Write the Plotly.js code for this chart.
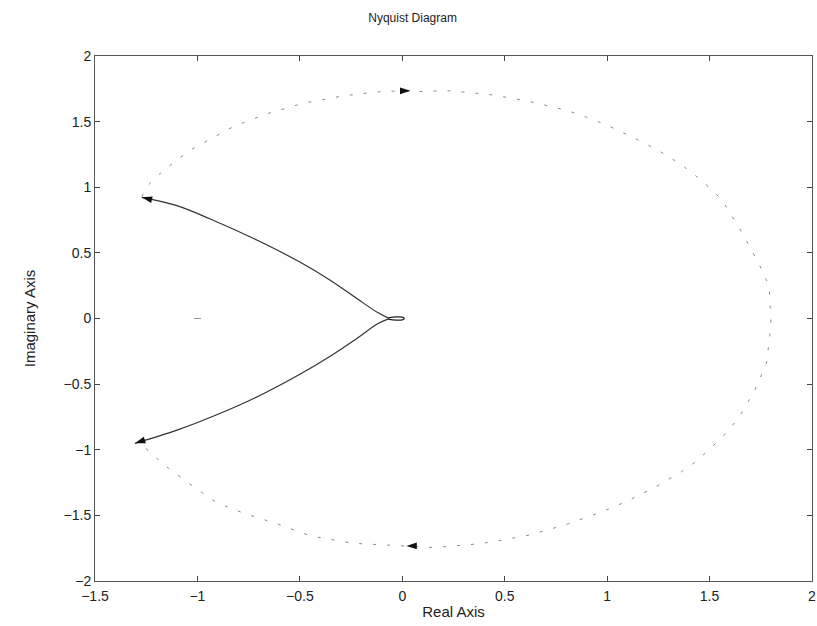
<!DOCTYPE html>
<html>
<head>
<meta charset="utf-8">
<script src="https://cdn.plot.ly/plotly-3.0.1.min.js"></script>
<style>html,body{margin:0;padding:0;background:#fff;}#chart{width:817px;height:626px;}</style>
</head>
<body>
<div id="chart"></div>
<script>
// Solid branch (positive frequencies), upper part
const solidUpperX = [-1.272, -1.10, -0.94, -0.70, -0.50, -0.35, -0.22, -0.12, -0.07];
const solidUpperY = [0.923, 0.86, 0.76, 0.59, 0.43, 0.29, 0.15, 0.045, 0.005];
// small loop near the origin
const loopX = [-0.07, -0.03, 0.0, 0.01, 0.0, -0.03, -0.07];
const loopY = [0.005, 0.012, 0.01, 0.0, -0.01, -0.012, -0.005];
// Solid branch, lower part
const solidLowerX = [-0.07, -0.12, -0.22, -0.35, -0.50, -0.70, -0.90, -1.10, -1.305];
const solidLowerY = [-0.005, -0.04, -0.15, -0.285, -0.425, -0.59, -0.73, -0.851, -0.951];
// Dotted closing contour
const dottedX = [-1.27, -1.256, -1.186, -1.101, -1.028, -0.939, -0.841, -0.744, -0.654, -0.483, -0.381, -0.293, -0.182, -0.076, 0.053, 0.216, 0.335, 0.420, 0.522, 0.603, 0.709, 0.810, 0.899, 0.989, 1.103, 1.240, 1.358, 1.428, 1.506, 1.561, 1.66, 1.74, 1.791, 1.80, 1.778, 1.72, 1.648, 1.591, 1.513, 1.433, 1.363, 1.24, 1.10, 0.98, 0.80, 0.62, 0.449, 0.363, 0.159, 0.086, 0.013, -0.133, -0.239, -0.446, -0.62, -0.78, -0.906, -1.02, -1.15, -1.272];
const dottedY = [0.93, 0.992, 1.099, 1.208, 1.289, 1.368, 1.449, 1.512, 1.563, 1.640, 1.672, 1.695, 1.716, 1.733, 1.728, 1.736, 1.720, 1.708, 1.682, 1.660, 1.621, 1.583, 1.533, 1.480, 1.398, 1.29, 1.177, 1.093, 0.987, 0.903, 0.65, 0.42, 0.248, -0.05, -0.341, -0.55, -0.741, -0.857, -0.977, -1.091, -1.167, -1.28, -1.39, -1.47, -1.57, -1.65, -1.700, -1.718, -1.745, -1.739, -1.733, -1.726, -1.713, -1.657, -1.56, -1.48, -1.403, -1.28, -1.13, -0.964];
// Arrow heads
const arrowX = [0.04, 0.02, -1.272, -1.305];
const arrowY = [1.735, -1.733, 0.923, -0.951];
const arrowAngle = [90, 270, 283, 251];
// critical point mark
const critX = [-1];
const critY = [0];
const tickVals = [-1.5, -1, -0.5, 0, 0.5, 1, 1.5, 2];
const yTickVals = [-2, -1.5, -1, -0.5, 0, 0.5, 1, 1.5, 2];

const font = 'Liberation Sans, Arial, Helvetica, sans-serif';

const traces = [
  {x: dottedX, y: dottedY, mode: 'lines', line: {color: '#8a8a8a', width: 1, dash: '3px,11px'}, hoverinfo: 'skip'},
  {x: solidUpperX, y: solidUpperY, mode: 'lines', line: {color: '#333', width: 1.2, shape: 'spline', smoothing: 1.0}},
  {x: loopX, y: loopY, mode: 'lines', line: {color: '#222', width: 1.2, shape: 'spline'}},
  {x: solidLowerX, y: solidLowerY, mode: 'lines', line: {color: '#333', width: 1.2, shape: 'spline', smoothing: 1.0}},
  {x: arrowX, y: arrowY, mode: 'markers', marker: {symbol: 'arrow', size: 11, color: '#111', angle: arrowAngle, line: {width: 0}}},
  {x: critX, y: critY, mode: 'markers', marker: {symbol: 'line-ew', size: 5, line: {color: '#999', width: 1}}}
];

const layout = {
  width: 817, height: 626,
  margin: {l: 95, r: 5, t: 56, b: 45},
  paper_bgcolor: '#fff', plot_bgcolor: '#fff',
  showlegend: false,
  font: {family: font, color: '#222', size: 14},
  title: {text: 'Nyquist Diagram', font: {family: font, size: 12, color: '#222'}, x: 0.505, xref: 'container', xanchor: 'center', y: 0.971, yref: 'container', yanchor: 'middle'},
  xaxis: {
    range: [-1.5, 2], tickvals: tickVals, ticks: 'inside', ticklen: 5, tickcolor: '#444',
    showline: true, linecolor: '#555', linewidth: 1, mirror: 'ticks', showgrid: false, zeroline: false,
    tickfont: {family: font, size: 14, color: '#222'}, ticklabelstandoff: 2,
    title: {text: 'Real Axis', font: {family: font, size: 15, color: '#222'}, standoff: 3}
  },
  yaxis: {
    range: [-2, 2], tickvals: yTickVals, ticks: 'inside', ticklen: 5, tickcolor: '#444',
    showline: true, linecolor: '#555', linewidth: 1, mirror: 'ticks', showgrid: false, zeroline: false,
    tickfont: {family: font, size: 14, color: '#222'},
    title: {text: 'Imaginary Axis', font: {family: font, size: 15, color: '#222'}, standoff: 24}
  }
};

Plotly.newPlot('chart', traces, layout, {staticPlot: true, displayModeBar: false});
</script>
</body>
</html>
